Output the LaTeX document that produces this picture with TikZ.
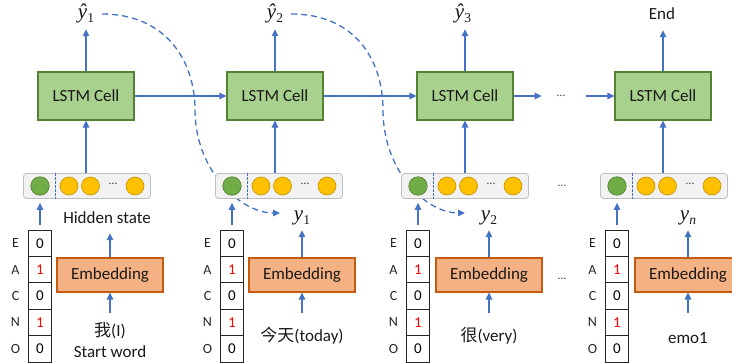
\documentclass[tikz,border=0pt]{standalone}
\usepackage{fontspec}
\setmainfont{Carlito}
\newfontfamily\cjk{Noto Sans CJK SC}
\newfontfamily\mfont{Liberation Serif}
\newcommand{\mvar}[2]{{\mfont\itshape #1}\raisebox{-4pt}{\fontsize{13.5}{14}\selectfont\mfont #2}}
\usetikzlibrary{arrows.meta}
\definecolor{arrowblue}{RGB}{68,114,196}
\definecolor{cellfill}{RGB}{169,209,142}
\definecolor{cellborder}{RGB}{84,130,53}
\definecolor{embfill}{RGB}{244,177,131}
\definecolor{embborder}{RGB}{197,90,17}
\definecolor{hidfill}{RGB}{242,242,242}
\definecolor{hidborder}{RGB}{190,190,190}
\definecolor{gdotfill}{RGB}{112,173,71}
\definecolor{gdotborder}{RGB}{80,126,50}
\definecolor{ydotfill}{RGB}{255,192,0}
\definecolor{ydotborder}{RGB}{191,144,0}
\definecolor{hotred}{RGB}{255,0,0}
\pgfdeclarelayer{bg}
\pgfsetlayers{bg,main}
\begin{document}
\begin{tikzpicture}[x=1pt,y=-1pt,
  cellbox/.style={draw=cellborder, fill=cellfill, line width=1.2pt, minimum width=96pt, minimum height=48pt, inner sep=0pt, font=\fontsize{17}{20}\selectfont, text=black!90},
  embbox/.style={draw=embborder, fill=embfill, line width=1.2pt, minimum width=106pt, minimum height=34pt, inner sep=0pt, font=\fontsize{17}{20}\selectfont, text=black!90},
  hidbox/.style={draw=hidborder, fill=hidfill, rounded corners=3pt, line width=0.8pt, minimum width=127pt, minimum height=25pt, inner sep=0pt},
  gdot/.style={circle, draw=gdotborder, fill=gdotfill, line width=0.6pt, minimum size=18.5pt, inner sep=0pt},
  ydot/.style={circle, draw=ydotborder, fill=ydotfill, line width=0.6pt, minimum size=18pt, inner sep=0pt},
  hotcell/.style={draw=black!85, line width=0.9pt, minimum width=23pt, minimum height=26.4pt, inner sep=0pt, font=\fontsize{15}{16}\selectfont},
  rowlab/.style={font=\fontsize{14}{15}\selectfont, text=black!85, inner sep=0pt},
  lbl/.style={font=\fontsize{17}{20}\selectfont, text=black!90, inner sep=0pt, text height=12pt, text depth=4pt, anchor=base},
  mlbl/.style={lbl, font=\fontsize{21}{22}\selectfont},
  flow/.style={draw=arrowblue, line width=1.3pt, -{Triangle[length=7pt,width=6.5pt]}},
  feedback/.style={flow, dash pattern=on 6pt off 4pt},
  dotsym/.style={font=\fontsize{12}{12}\selectfont, text=black!75, inner sep=0pt},
  divider/.style={draw=arrowblue, line width=0.7pt, dash pattern=on 2.5pt off 1.5pt}
]
\path[use as bounding box, clip] (0,0) rectangle (732,362);

\foreach \n/\c/\h/\o/\e in {1/86/87/40/110, 2/275/279/232/302, 3/465/465/418/489, 4/663/664/617/688} {
  \node[cellbox] (cell\n) at (\c,96) {LSTM Cell};
  \node[hidbox] (hid\n) at (\h,186) {};
  \draw[divider] ([xshift=32pt]hid\n.north west) -- ([xshift=32pt]hid\n.south west);
  \node[gdot] (g\n) at (\o,186) {};
  \node[ydot] (ya\n) at (\h-18,186) {};
  \node[ydot] (yb\n) at (\h+3.5,186) {};
  \node[dotsym] (hd\n) at (\h+26,184) {…};
  \node[ydot] (yc\n) at (\h+48,186) {};
  \foreach \r/\L/\v in {0/E/0, 1/A/{\textcolor{hotred}{1}}, 2/C/0, 3/N/{\textcolor{hotred}{1}}, 4/O/0} {
    \node[hotcell] (oh\n-\r) at (\o,243.2+26.4*\r) {\v};
    \node[rowlab] (rl\n-\r) at (\o-24.5,243.2+26.4*\r) {\L};
  }
  \node[embbox] (emb\n) at (\e,275) {Embedding};
  \draw[flow] (cell\n.south |- hid\n.north) -- (cell\n.south);
  \draw[flow, shorten <=5pt, shorten >=4pt] (oh\n-0.north) -- (oh\n-0.north |- hid\n.south);
}

% output labels
\node[mlbl] (out1) at (86,18) {\mvar{ŷ}{1}};
\node[mlbl] (out2) at (275,18) {\mvar{ŷ}{2}};
\node[mlbl] (out3) at (463,18) {\mvar{ŷ}{3}};
\node[lbl] (out4) at (662,19) {End};
\foreach \n in {1,2,3,4} {
  \draw[flow, shorten >=7pt] (cell\n.north) -- (cell\n.north |- out\n.south);
}

% labels between hidden state and embedding
\node[lbl] (lab1) at (107,223) {Hidden state};
\node[mlbl] (lab2) at (302,220) {\mvar{y}{1}};
\node[mlbl] (lab3) at (489,220) {\mvar{y}{2}};
\node[mlbl] (lab4) at (688,220) {\mvar{y}{\itshape n}};
\foreach \n in {1,2,3,4} {
  \draw[flow, shorten >=6pt] (emb\n.north) -- (emb\n.north |- lab\n.south);
}

% input words
\node[lbl] (in1) at (110,336) {{\cjk 我}(I)};
\node[lbl] (sw1) at (110,357) {Start word};
\node[lbl] (in2) at (302,341) {{\cjk 今天}(today)};
\node[lbl] (in3) at (489,341) {{\cjk 很}(very)};
\node[lbl] (in4) at (688,343) {emo1};
\foreach \n/\s in {1/11pt, 2/16pt, 3/16pt, 4/18pt} {
  \draw[flow, shorten <=\s] (emb\n.south |- in\n.north) -- (emb\n.south);
}

% recurrent connections
\node[dotsym] (dm) at (561,96) {…};
\node[dotsym] (dh) at (562,186) {…};
\node[dotsym] (de) at (562,279) {…};
\draw[flow] (cell1.east) -- (cell2.west);
\draw[flow] (cell2.east) -- (cell3.west);
\draw[flow, shorten >=15pt] (cell3.east) -- (dm.west);
\draw[flow, shorten <=21pt] (dm.east) -- (cell4.west);

% feedback curves
\coordinate (fb1) at (280,213);
\coordinate (fb2) at (465,213);
\begin{pgfonlayer}{bg}
\draw[feedback, shorten <=8pt] (out1.east) .. controls (165,14) and (195,60) .. (195,110) .. controls (195,170) and (240,213) .. (fb1);
\draw[feedback, shorten <=8pt] (out2.east) .. controls (355,14) and (383,60) .. (383,110) .. controls (383,170) and (425,213) .. (fb2);
\end{pgfonlayer}
\end{tikzpicture}
\end{document}
